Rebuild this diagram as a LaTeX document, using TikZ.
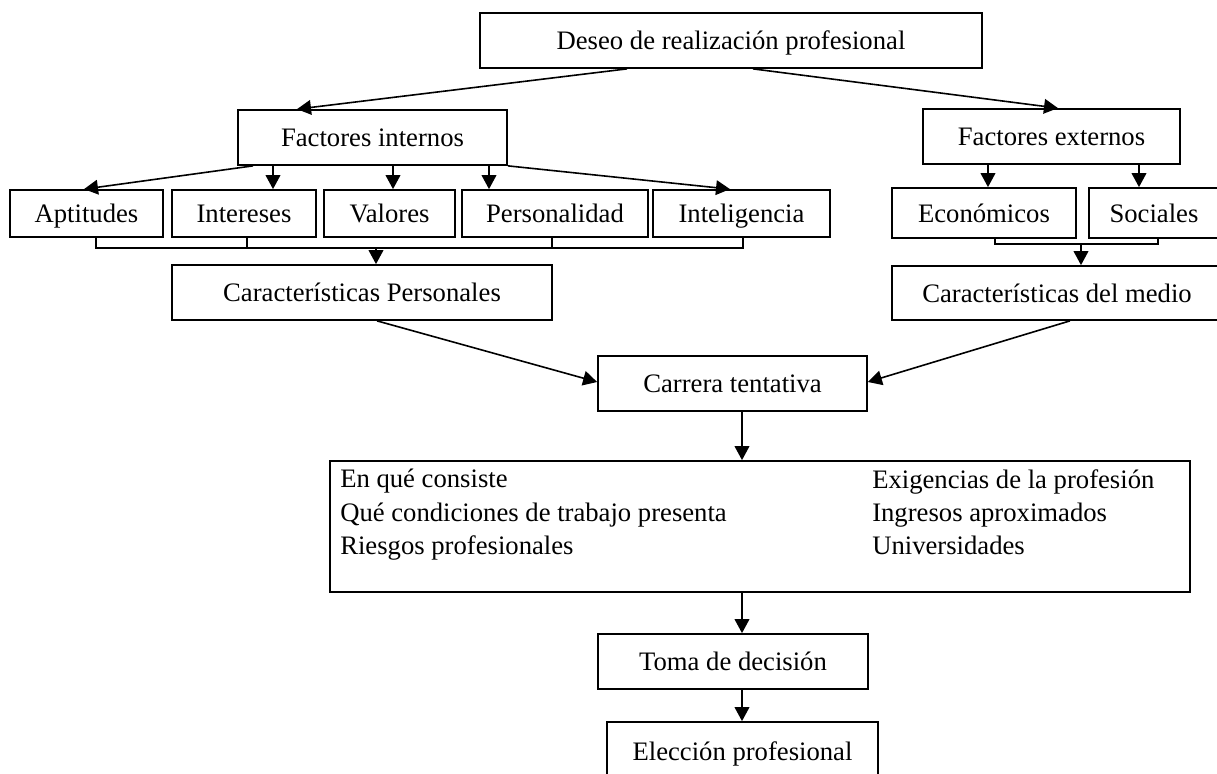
\documentclass[tikz,border=0pt]{standalone}
\usepackage{fontspec}
\setmainfont{Liberation Serif}
\usetikzlibrary{calc,arrows.meta}
\begin{document}
\begin{tikzpicture}[x=0.75pt,y=-0.75pt,
  box/.style={draw,line width=1.3pt,inner sep=0pt,text height=16pt,text depth=2pt,font=\fontsize{20}{24}\selectfont},
  txt/.style={inner sep=0pt,align=left,font=\fontsize{20}{25}\selectfont},
  arr/.style={line width=1.2pt,-{Triangle[length=10.5pt,width=11pt]}},
  ln/.style={line width=1.2pt}]
\clip (0,0) rectangle (1217,774);
% top
\node[box,minimum width=376.5pt,minimum height=41.25pt] (top) at (731,40.5) {Deseo de realización profesional};
% level 2
\node[box,minimum width=201.75pt,minimum height=41.25pt] (fi) at (372.5,137.5) {Factores internos};
\node[box,minimum width=192.75pt,minimum height=41.25pt] (fe) at (1051.5,136.5) {Factores externos};
% level 3
\node[box,minimum width=114.75pt,minimum height=35.25pt] (apt) at (86.5,213.5) {Aptitudes};
\node[box,minimum width=108pt,minimum height=35.25pt] (int) at (244,213.5) {Intereses};
\node[box,minimum width=98.25pt,minimum height=35.25pt] (val) at (389.5,213.5) {Valores};
\node[box,minimum width=139.5pt,minimum height=35.25pt] (per) at (555,213.5) {Personalidad};
\node[box,minimum width=132.75pt,minimum height=35.25pt] (intel) at (741.5,213.5) {Inteligencia};
\node[box,minimum width=138pt,minimum height=37.5pt] (eco) at (984,213) {Económicos};
\node[box,minimum width=97.5pt,minimum height=37.5pt] (soc) at (1154,213) {Sociales};
% level 4
\node[box,minimum width=285pt,minimum height=41.25pt] (cp) at (362,292.5) {Características Personales};
\node[box,minimum width=247.5pt,minimum height=40.5pt] (cm) at (1057,293) {Características del medio};
% carrera
\node[box,minimum width=201.75pt,minimum height=41.25pt] (car) at (732.5,383.5) {Carrera tentativa};
% big box
\node[draw,line width=1.3pt,inner sep=0pt,minimum width=645pt,minimum height=98.25pt] (big) at (760,526.5) {};
\node[txt,anchor=north west] (bl) at (340,469) {En qué consiste\\Qué condiciones de trabajo presenta\\Riesgos profesionales};
\node[txt,anchor=north west] (br) at (872,469) {Exigencias de la profesión\\Ingresos aproximados\\Universidades};
% bottom
\node[box,minimum width=202.5pt,minimum height=41.25pt] (toma) at (733,661.5) {Toma de decisión};
\node[box,minimum width=203.25pt,minimum height=43.5pt] (elec) at (742.5,751) {Elección profesional};

% arrows from top
\draw[arr] (top.south -| 627,0) -- (fi.north -| 297,0);
\draw[arr] (top.south -| 753,0) -- (fe.north -| 1058,0);
% arrows from factores internos
\draw[arr] (fi.south -| 253,0) -- (apt.north -| 84,0);
\draw[arr] (fi.south -| 273,0) -- (int.north -| 273,0);
\draw[arr] (fi.south -| 393,0) -- (val.north -| 393,0);
\draw[arr] (fi.south -| 489,0) -- (per.north -| 489,0);
\draw[arr] (fi.south east) -- (intel.north -| 730,0);
% arrows from factores externos
\draw[arr] (fe.south -| 988,0) -- (eco.north -| 988,0);
\draw[arr] (fe.south -| 1139,0) -- (soc.north -| 1139,0);
% internal bracket
\coordinate (bi) at (376,248);
\draw[ln] (apt.south -| 96,0) -- (bi -| 96,0) -- (bi -| 743,0) -- (intel.south -| 743,0);
\draw[ln] (int.south -| 247,0) -- (bi -| 247,0);
\draw[ln] (per.south -| 552,0) -- (bi -| 552,0);
\draw[arr] (bi) -- (cp.north -| bi);
% external bracket
\coordinate (be) at (1081,244);
\draw[ln] (eco.south -| 995,0) -- (be -| 995,0) -- (be -| 1158,0) -- (soc.south -| 1158,0);
\draw[arr] (be) -- (cm.north -| be);
% to carrera
\draw[arr] (cp.south -| 377,0) -- (car.west |- 0,382);
\draw[arr] (cm.south -| 1070,0) -- (car.east |- 0,382);
% vertical chain
\draw[arr] (car.south -| 742,0) -- (big.north -| 742,0);
\draw[arr] (big.south -| 742,0) -- (toma.north -| 742,0);
\draw[arr] (toma.south -| 742,0) -- (elec.north -| 742,0);
\end{tikzpicture}
\end{document}
